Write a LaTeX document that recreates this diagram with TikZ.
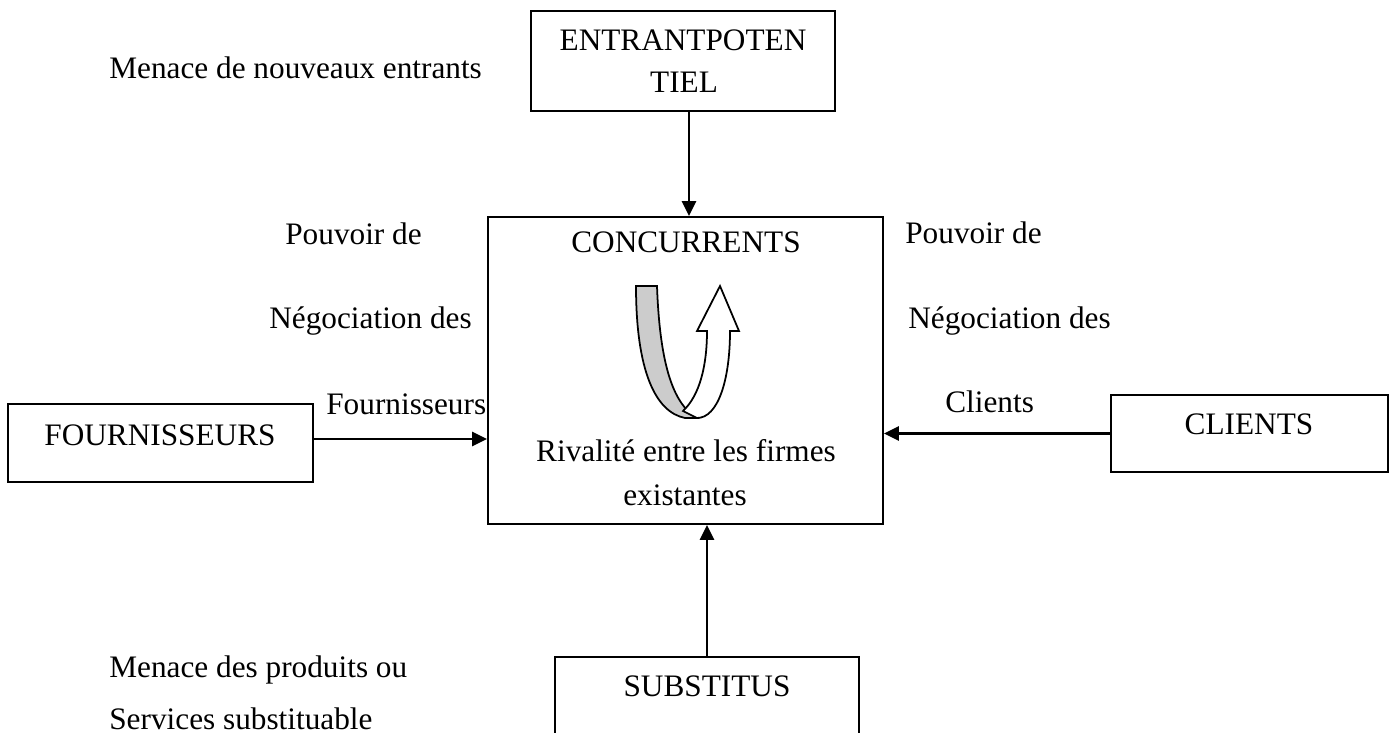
\documentclass[tikz,border=0pt]{standalone}
\usepackage{fontspec}
\setmainfont{Liberation Serif}
\usetikzlibrary{calc}
\usetikzlibrary{arrows.meta}

\begin{document}
\begin{tikzpicture}[x=0.02cm,y=-0.02cm,
    box/.style={draw,line width=1.1pt,inner sep=0pt},
    txt/.style={inner sep=0pt,font=\fontsize{17.8}{24}\selectfont},
    arr/.style={line width=1.5pt,-{Triangle[length=0.3cm,width=0.28cm]}}]
    \path[use as bounding box] (0,0) rectangle (1394,733);
    % Boxes.
    \node[box,minimum width=6.08cm,minimum height=2cm] (entrant) at (683,61) {};
    \node[box,minimum width=7.9cm,minimum height=6.14cm] (conc) at (685.5,370.5) {};
    \node[box,minimum width=6.1cm,minimum height=1.56cm] (fourn) at (160.5,443) {};
    \node[box,minimum width=5.54cm,minimum height=1.54cm] (clients) at (1249.5,433.5) {};
    \node[box,minimum width=6.08cm,minimum height=2cm] (subst) at (707,707) {};
    % Texts in the boxes.
    \node[txt,anchor=base] (entrant1) at (683,51) {ENTRANTPOTEN};
    \node[txt,anchor=base] (entrant2) at (684,93) {TIEL};
    \node[txt,anchor=base] (concname) at (686,253) {CONCURRENTS};
    \node[txt,anchor=base] (rival1) at (686,461) {Rivalité entre les firmes};
    \node[txt,anchor=base] (rival2) at (685,505) {existantes};
    \node[txt,anchor=base] (fournname) at (160,445) {FOURNISSEURS};
    \node[txt,anchor=base] (clientsname) at (1249,435) {CLIENTS};
    \node[txt,anchor=base] (substname) at (707,696) {SUBSTITUS};
    % Forces.
    \node[txt,anchor=base west] (menace1) at (109,79) {Menace de nouveaux entrants};
    \node[txt,anchor=base west] (pouvoirf1) at (285,245) {Pouvoir de};
    \node[txt,anchor=base west] (pouvoirf2) at (269,329) {Négociation des};
    \node[txt,anchor=base west] (pouvoirf3) at (326,415) {Fournisseurs};
    \node[txt,anchor=base west] (pouvoirc1) at (905,244) {Pouvoir de};
    \node[txt,anchor=base west] (pouvoirc2) at (908,329) {Négociation des};
    \node[txt,anchor=base west] (pouvoirc3) at (945,413) {Clients};
    \node[txt,anchor=base west] (menace2) at (109,677) {Menace des produits ou};
    \node[txt,anchor=base west] (menace3) at (109,729) {Services substituable};
    % Arrows.
    \draw[arr] ([xshift=0.12cm]entrant.south) -- ([xshift=0.12cm]entrant.south |- conc.north);
    \draw[arr] ([yshift=0.08cm]fourn.east) -- ([yshift=0.08cm]fourn.east -| conc.west);
    \draw[arr] (clients.west) -- (clients.west -| conc.east);
    \draw[arr] (subst.north) -- (subst.north |- conc.south);
    % U-turn.
    \filldraw[fill=black!20,line width=1pt] (636,286) -- (657,286) .. controls (660,370) and (675,405) .. (697,418)
        -- (685,418) .. controls (655,412) and (636,370) .. (636,286) -- cycle;
    \filldraw[fill=white,line width=1pt] (683,411) .. controls (700,395) and (707,365) .. (707,331)
        -- (697,331) -- (720,286) -- (739,331) -- (730,331) .. controls (730,380) and (718,418) .. (697,418) -- cycle;
\end{tikzpicture}
\end{document}
